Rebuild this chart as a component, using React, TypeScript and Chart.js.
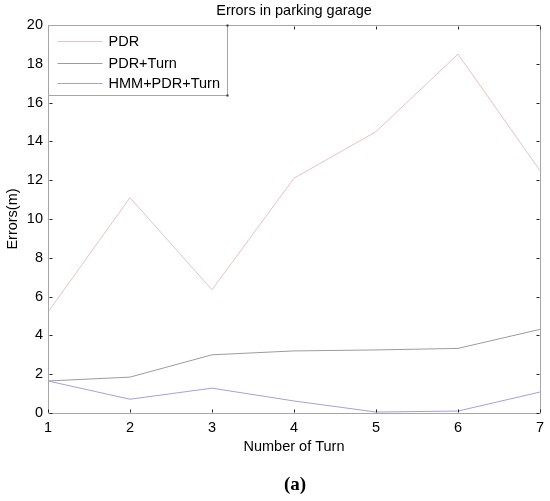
import React, { useEffect, useRef } from "react";
import { Chart, registerables } from "chart.js";

Chart.register(...registerables);

const turns = [1, 2, 3, 4, 5, 6, 7];
const pdr = [5.2, 11.1, 6.35, 12.1, 14.5, 18.5, 12.5];
const pdrTurn = [1.65, 1.85, 3.0, 3.2, 3.25, 3.33, 4.31];
const hmmPdrTurn = [1.65, 0.71, 1.28, 0.62, 0.05, 0.1, 1.08];
const seriesNames = ["PDR", "PDR+Turn", "HMM+PDR+Turn"];
const seriesValues = [pdr, pdrTurn, hmmPdrTurn];
const seriesColors = ["#e6c2c2", "#9c9c9c", "#a2a2da"];
const xTicks = [1, 2, 3, 4, 5, 6, 7];
const yTicks = [0, 2, 4, 6, 8, 10, 12, 14, 16, 18, 20];
const chartTitle = "Errors in parking garage";
const xTitle = "Number of Turn";
const yTitle = "Errors(m)";
const caption = "(a)";

const FONT = "Liberation Sans, Arial, sans-serif";
const FS = 14.5;

const framePlugin = {
  id: "frame",
  afterDatasetsDraw(chart: any) {
    const { ctx, chartArea: a, scales } = chart;
    const xs = scales.x;
    const ys = scales.y;
    const L = Math.round(a.left) + 0.5;
    const R = Math.round(a.right) + 0.5;
    const T = Math.round(a.top) + 0.5;
    const B = Math.round(a.bottom) + 0.5;
    ctx.save();
    // box
    ctx.strokeStyle = "#a6a6a6";
    ctx.lineWidth = 1;
    ctx.beginPath();
    ctx.moveTo(L, T);
    ctx.lineTo(R, T);
    ctx.lineTo(R, B);
    ctx.lineTo(L, B);
    ctx.closePath();
    ctx.stroke();
    // inward ticks
    ctx.strokeStyle = "#222";
    ctx.beginPath();
    xTicks.forEach((v) => {
      const px = Math.round(xs.getPixelForValue(v)) + 0.5;
      ctx.moveTo(px, B - 1);
      ctx.lineTo(px, B - 4);
      ctx.moveTo(px, T + 1);
      ctx.lineTo(px, T + 4);
    });
    yTicks.forEach((v) => {
      const py = Math.round(ys.getPixelForValue(v)) + 0.5;
      ctx.moveTo(L + 1, py);
      ctx.lineTo(L + 4, py);
      ctx.moveTo(R - 1, py);
      ctx.lineTo(R - 4, py);
    });
    ctx.stroke();

    // legend box
    const lw = 179;
    const lh = 70;
    ctx.fillStyle = "#fff";
    ctx.fillRect(L, T, lw, lh);
    ctx.strokeStyle = "#a6a6a6";
    ctx.strokeRect(L, T, lw, lh);
    ctx.fillStyle = "#333";
    ctx.fillRect(L + lw - 1, T - 1, 2, 2);
    ctx.fillRect(L + lw - 1, T + lh - 1, 2, 2);
    ctx.font = `${FS}px ${FONT}`;
    ctx.textBaseline = "middle";
    ctx.textAlign = "left";
    const rowY = [15, 37, 57];
    seriesNames.forEach((name, i) => {
      const yy = Math.round(T + rowY[i]) + 0.5;
      ctx.strokeStyle = seriesColors[i];
      ctx.lineWidth = 1;
      ctx.beginPath();
      ctx.moveTo(L + 9, yy);
      ctx.lineTo(L + 54, yy);
      ctx.stroke();
      ctx.fillStyle = "#000";
      ctx.fillText(name, L + 60, yy);
    });

    // title
    ctx.font = `${FS}px ${FONT}`;
    ctx.textAlign = "center";
    ctx.fillStyle = "#000";
    ctx.fillText(chartTitle, (a.left + a.right) / 2, 11);
    ctx.restore();
  },
};

export default function App() {
  const ref = useRef<HTMLCanvasElement>(null);
  useEffect(() => {
    const font = { family: FONT, size: FS };
    const chart = new Chart(ref.current as HTMLCanvasElement, {
      type: "line",
      data: {
        datasets: seriesNames.map((name, i) => ({
          label: name,
          data: turns.map((t, j) => ({ x: t, y: seriesValues[i][j] })),
          borderColor: seriesColors[i],
          backgroundColor: seriesColors[i],
          borderWidth: 1,
          pointRadius: 0,
          tension: 0,
          fill: false,
        })),
      },
      options: {
        animation: false,
        responsive: false,
        events: [],
        layout: { padding: { top: 25, right: 8, left: 0, bottom: 0 } },
        plugins: {
          legend: { display: false },
          title: { display: false },
          tooltip: { enabled: false },
        },
        scales: {
          x: {
            type: "linear",
            min: 1,
            max: 7,
            afterBuildTicks: (s: any) => {
              s.ticks = xTicks.map((v) => ({ value: v }));
            },
            afterFit: (s: any) => {
              s.height = 88;
            },
            grid: { display: false, drawTicks: false },
            border: { display: false },
            ticks: { padding: 6, font, color: "#000", autoSkip: false, maxRotation: 0 },
            title: {
              display: true,
              text: xTitle,
              font,
              color: "#000",
              padding: { top: 0, bottom: 45 },
            },
          },
          y: {
            type: "linear",
            min: 0,
            max: 20,
            afterBuildTicks: (s: any) => {
              s.ticks = yTicks.map((v) => ({ value: v }));
            },
            afterFit: (s: any) => {
              s.width = 48;
            },
            grid: { display: false, drawTicks: false },
            border: { display: false },
            ticks: { padding: 5, font, color: "#000", autoSkip: false },
            title: {
              display: true,
              text: yTitle,
              font,
              color: "#000",
              padding: { top: 4, bottom: 0 },
            },
          },
        },
      } as any,
      plugins: [framePlugin],
    });
    return () => chart.destroy();
  }, []);

  return (
    <div style={{ position: "absolute", left: 0, top: 0, width: 550, height: 501, background: "#fff" }}>
      <canvas ref={ref} width={550} height={501} style={{ display: "block", width: 550, height: 501 }} />
      <div
        style={{
          position: "absolute",
          left: 0,
          width: 590,
          top: 474,
          textAlign: "center",
          fontFamily: "Liberation Serif, serif",
          fontWeight: "bold",
          fontSize: 19,
          lineHeight: "20px",
          color: "#000",
        }}
      >
        {caption}
      </div>
    </div>
  );
}
